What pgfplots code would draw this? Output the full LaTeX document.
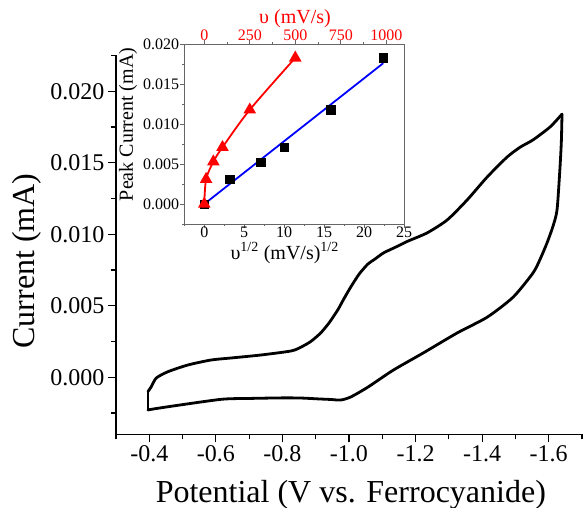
\documentclass[border=0pt]{standalone}
\usepackage{fontspec}
\setmainfont{Liberation Serif}
\usepackage{pgfplots}
\pgfplotsset{compat=1.18}
\definecolor{insetgray}{gray}{0.4}
\begin{document}
\begin{tikzpicture}
\useasboundingbox (-116pt,-73.5pt) rectangle (468pt,434.5pt);
% main CV
\begin{axis}[
    scale only axis, width=466pt, height=379pt,
    axis lines*=left, x dir=reverse,
    xmin=-1.7, xmax=-0.3, ymin=-0.004, ymax=0.0225,
    xtick={-0.4,-0.6,-0.8,-1.0,-1.2,-1.4,-1.6},
    minor xtick={-0.3,-0.5,-0.7,-0.9,-1.1,-1.3,-1.5,-1.7},
    ytick={0,0.005,0.01,0.015,0.02},
    minor ytick={-0.0025,0.0025,0.0075,0.0125,0.0175,0.0225},
    scaled y ticks=false, scaled x ticks=false,
    tick align=outside, major tick length=8pt, minor tick length=5pt,
    axis line style={line width=1.2pt}, every tick/.style={black, line width=1.2pt},
    xticklabel style={/pgf/number format/.cd, fixed, fixed zerofill, precision=1, assume math mode=true},
    yticklabel style={/pgf/number format/.cd, fixed, fixed zerofill, precision=3, assume math mode=true},
    tick label style={font=\fontsize{24}{24}\selectfont},
    label style={font=\fontsize{32}{32}\selectfont},
    xlabel={Potential (V vs. Ferrocyanide)},
    ylabel={Current (mA)},
    xlabel style={at={(axis description cs:0.504,-0.158)}, anchor=center},
    ylabel style={at={(axis description cs:-0.191,0.458)}, anchor=center},
    clip=false,
    every axis plot/.append style={black, line width=2.8pt, line join=round, line cap=round},
]
% forward scan
\addplot[smooth, tension=0.4] coordinates {
(-0.396,-0.0010) (-0.406,-0.00066) (-0.421,-0.00005) (-0.456,0.00039)
(-0.516,0.00086) (-0.586,0.00121) (-0.646,0.00135) (-0.736,0.00156) (-0.826,0.00184)
(-0.855,0.00210) (-0.885,0.0025) (-0.915,0.0031) (-0.940,0.0038) (-0.966,0.0047)
(-0.985,0.0055) (-1.005,0.0063) (-1.030,0.0072) (-1.056,0.0079) (-1.080,0.0083)
(-1.104,0.0087) (-1.140,0.0091) (-1.175,0.0095) (-1.235,0.0101) (-1.295,0.0110)
(-1.355,0.0124) (-1.415,0.0140) (-1.475,0.0154) (-1.515,0.0161) (-1.553,0.0166)
(-1.604,0.0175) (-1.640,0.0184)
};
% reverse scan
\addplot[smooth, tension=0.4] coordinates {
(-1.640,0.0184)
(-1.638,0.0165) (-1.634,0.0147) (-1.625,0.0117) (-1.612,0.0105) (-1.595,0.0094)
(-1.575,0.0083) (-1.553,0.0073) (-1.493,0.0056) (-1.415,0.0042) (-1.325,0.0031)
(-1.223,0.0017) (-1.133,0.0005) (-1.056,-0.0007) (-1.005,-0.00138) (-0.975,-0.00159)
(-0.945,-0.00155) (-0.915,-0.00152) (-0.855,-0.00145) (-0.800,-0.00144) (-0.700,-0.00148)
(-0.616,-0.00154) (-0.456,-0.00206) (-0.396,-0.00228)
};
% switching point at -0.4 V
\addplot[mark=none] coordinates {(-0.396,-0.00228) (-0.396,-0.0010)};
\end{axis}
% inset, bottom axis: peak current vs sqrt(scan rate)
\begin{axis}[
    at={(68.3pt,210.5pt)}, anchor=south west,
    scale only axis, width=219.7pt, height=179.7pt,
    xmin=-2.5, xmax=25, ymin=-0.0025, ymax=0.02,
    xtick pos=lower, ytick pos=left,
    xtick={0,5,10,15,20,25}, minor xtick={-2.5,2.5,7.5,12.5,17.5,22.5},
    ytick={0,0.005,0.01,0.015,0.02}, minor ytick={-0.0025,0.0025,0.0075,0.0125,0.0175},
    scaled y ticks=false,
    tick align=outside, major tick length=4pt, minor tick length=2.5pt,
    axis line style={insetgray, line width=0.8pt}, every tick/.style={insetgray, line width=0.8pt},
    yticklabel style={inner sep=1pt, /pgf/number format/.cd, fixed, fixed zerofill, precision=3, assume math mode=true},
    xticklabel style={inner sep=0pt, yshift=1.5pt, /pgf/number format/assume math mode=true},
    tick label style={font=\fontsize{16}{16}\selectfont},
    label style={font=\fontsize{20}{20}\selectfont},
    xlabel={υ\textsuperscript{1/2} (mV/s)\textsuperscript{1/2}},
    ylabel={Peak Current (mA)},
    xlabel style={at={(axis description cs:0.457,-0.16)}, anchor=center},
    ylabel style={at={(axis description cs:-0.256,0.554)}, anchor=center},
    axis background/.style={fill=white},
    clip=false,
]
\addplot[blue, line width=1.8pt] coordinates {(0,0) (22.4,0.01763)};
\addplot[only marks, mark=square*, mark size=4.2pt, black] coordinates {
(0,0) (3.16,0.0031) (7.07,0.0052) (10,0.0071) (15.81,0.0118) (22.36,0.0183)
};
\end{axis}
% inset, top axis: peak current vs scan rate
\begin{axis}[
    at={(68.3pt,210.5pt)}, anchor=south west,
    scale only axis, width=219.7pt, height=179.7pt,
    xmin=-109.75, xmax=1097.5, ymin=-0.0025, ymax=0.02,
    axis x line*=top, axis y line=none,
    xtick={0,250,500,750,1000}, minor xtick={125,375,625,875},
    tick align=outside, major tick length=4pt, minor tick length=2.5pt,
    axis line style={insetgray, line width=0.8pt}, every tick/.style={insetgray, line width=0.8pt},
    xticklabel style={red, inner sep=0pt, yshift=-1pt, /pgf/number format/.cd, 1000 sep={}, assume math mode=true},
    tick label style={font=\fontsize{16}{16}\selectfont},
    label style={font=\fontsize{20}{20}\selectfont},
    xlabel={υ (mV/s)},
    xlabel style={red, at={(axis description cs:0.504,1.14)}, anchor=center},
    clip=false,
]
\addplot[red, line width=1.8pt, smooth, tension=0.5, mark=triangle*, mark size=5.5pt,
    mark options={solid, red}] coordinates {
(0,0) (10,0.0031) (50,0.0053) (100,0.0071) (250,0.0118) (500,0.0183)
};
\end{axis}
\end{tikzpicture}
\end{document}
